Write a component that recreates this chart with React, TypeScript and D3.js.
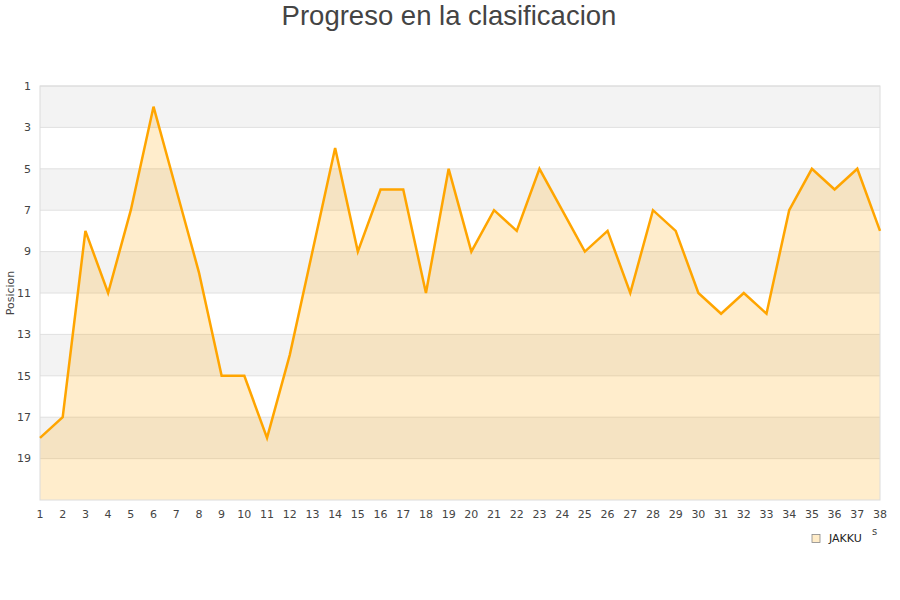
import React from "react";
import * as d3 from "d3";

const jornadas: number[] = d3.range(1, 39);
const posiciones: number[] = [18, 17, 8, 11, 7, 2, 6, 10, 15, 15, 18, 14, 9, 4, 9, 6, 6, 11, 5, 9, 7, 8, 5, 7, 9, 8, 11, 7, 8, 11, 12, 11, 12, 7, 5, 6, 5, 8];
const yTicks: number[] = [1, 3, 5, 7, 9, 11, 13, 15, 17, 19];
const serieNombre = "JAKKU";
const titulo = "Progreso en la clasificacion";
const yTitulo = "Posicion";

export default function App() {
  const W = 900, H = 600;
  const left = 40, right = 880, top = 86, bottom = 500;
  const x = d3.scaleLinear().domain([1, 38]).range([left, right]);
  const y = d3.scaleLinear().domain([1, 21]).range([top, bottom]);
  const data = jornadas.map((j, i) => ({ j, p: posiciones[i] }));
  const line = d3.line<{ j: number; p: number }>().x(d => x(d.j)).y(d => y(d.p));
  const area = d3.area<{ j: number; p: number }>().x(d => x(d.j)).y0(y(21)).y1(d => y(d.p));
  const bands = d3.range(1, 21, 2);
  return (
    <svg width={W} height={H} style={{ position: "absolute", left: 0, top: 0 }}>
      <rect x={0} y={0} width={W} height={H} fill="#fff" />
      <text x={449} y={25} textAnchor="middle" fontFamily="Liberation Sans, Arial, sans-serif" fontSize={27.5} fill="#444">{titulo}</text>
      {bands.map((b, i) => (
        <rect key={b} x={left} y={y(b)} width={right - left} height={y(b + 2) - y(b)} fill={i % 2 === 0 ? "#f3f3f3" : "#fff"} />
      ))}
      {yTicks.map(t => (
        <line key={t} x1={left} x2={right} y1={y(t)} y2={y(t)} stroke="#e0e0e0" strokeWidth={1} />
      ))}
      <path d={area(data) || ""} fill="#ffa500" fillOpacity={0.2} />
      <rect x={left} y={top} width={right - left} height={bottom - top} fill="none" stroke="#dcdcdc" strokeWidth={1} />
      <path d={line(data) || ""} fill="none" stroke="#ffa500" strokeWidth={2.5} strokeLinejoin="miter" />
      {yTicks.map(t => (
        <text key={t} x={31} y={y(t)} dy="0.35em" textAnchor="end" fontFamily="DejaVu Sans, sans-serif" fontSize={11} fill="#444">{t}</text>
      ))}
      {jornadas.map(j => (
        <text key={j} x={x(j)} y={518} textAnchor="middle" fontFamily="DejaVu Sans, sans-serif" fontSize={11} fill="#444">{j}</text>
      ))}
      <text transform={`translate(14,293) rotate(-90)`} textAnchor="middle" fontFamily="DejaVu Sans, sans-serif" fontSize={11} fill="#444">{yTitulo}</text>
      <rect x={812} y={534.5} width={8} height={8} fill="#ffecc8" stroke="#888" strokeWidth={0.8} />
      <text x={829} y={542} fontFamily="DejaVu Sans, sans-serif" fontSize={11} fill="#222">{serieNombre}</text>
      <text x={872} y={535} fontFamily="DejaVu Sans, sans-serif" fontSize={10} fill="#444">s</text>
    </svg>
  );
}
